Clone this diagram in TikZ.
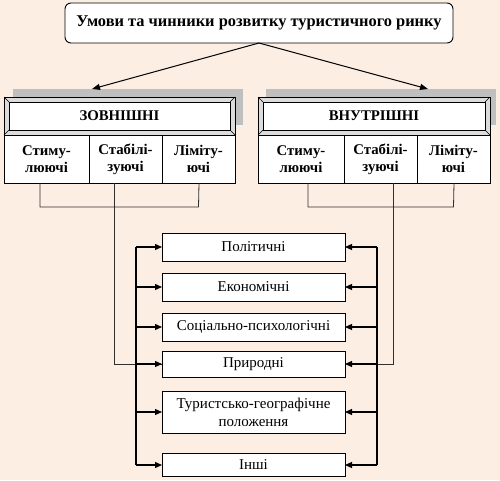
\documentclass[tikz,border=0pt]{standalone}
\usepackage{fontspec}
\setmainfont{Liberation Serif}
\usetikzlibrary{arrows.meta,calc}
\definecolor{bgc}{HTML}{FCEEE3}
\definecolor{shadowc}{HTML}{BFBFBF}
\definecolor{bevelc}{HTML}{DCDCDC}
\definecolor{linec}{HTML}{303030}
\tikzset{
  every node/.style={inner sep=0pt,outer sep=0pt},
  titlebox/.style={draw=black,line width=0.9pt,fill=white,rounded corners=6pt,minimum width=388pt,minimum height=40pt,font=\rmfamily\bfseries\fontsize{16.4}{18}\selectfont},
  shadowbox/.style={fill=shadowc,minimum width=230pt,minimum height=36pt},
  mainbox/.style={draw=black,line width=0.8pt,fill=bevelc,minimum height=38pt},
  maintext/.style={font=\rmfamily\bfseries\fontsize{14.8}{16}\selectfont},
  cellbox/.style={draw=black,line width=0.8pt,fill=white,minimum height=48pt,align=center,font=\rmfamily\bfseries\fontsize{14.8}{17}\selectfont},
  factbox/.style={draw=black,line width=0.8pt,fill=white,minimum width=183pt,align=center,font=\rmfamily\fontsize{15}{18}\selectfont},
  conn/.style={draw=linec,line width=0.8pt},
  arr/.style={draw=black,line width=1.2pt,-{Triangle[length=7pt,width=6pt]}},
  tarr/.style={draw=black,line width=1pt,-{Triangle[length=8pt,width=6pt]}},
}
\begin{document}
\begin{tikzpicture}[x=1pt,y=-1pt]
\fill[bgc] (0,0) rectangle (500,480);
\useasboundingbox (0,0) rectangle (500,480);

% title
\node[titlebox] (title) at (259,23) {Умови та чинники розвитку туристичного ринку};

% shadows
\node[shadowbox] (shL) at (127.5,107) {};
\node[shadowbox] (shR) at (381,107) {};

% main boxes
\node[mainbox,minimum width=231pt] (zov) at (119.5,116) {};
\node[mainbox,minimum width=232pt] (vnu) at (374,116) {};
\foreach \b in {zov,vnu}{
  \draw[black,line width=0.6pt,fill=white] ($(\b.north west)+(5,5)$) coordinate (\b-inw) rectangle ($(\b.south east)+(-5,-5)$) coordinate (\b-ise);
  \draw[black,line width=0.6pt] (\b.north west) -- (\b-inw);
  \draw[black,line width=0.6pt] (\b.south east) -- (\b-ise);
  \draw[black,line width=0.6pt] (\b.north east) -- ($(\b.north east)+(-5,5)$);
  \draw[black,line width=0.6pt] (\b.south west) -- ($(\b.south west)+(5,-5)$);
}
\node[maintext] (zovt) at (zov.center) {ЗОВНІШНІ};
\node[maintext] (vnut) at (vnu.center) {ВНУТРІШНІ};

% cells left
\node[cellbox,minimum width=85pt] (l1) at (46.5,159) {Стиму-\\люючі};
\node[cellbox,minimum width=73pt] (l2) at (125.5,159) {Стабілі-\\зуючі};
\node[cellbox,minimum width=73pt] (l3) at (198.5,159) {Ліміту-\\ючі};
% cells right
\node[cellbox,minimum width=86pt] (r1) at (301,159) {Стиму-\\люючі};
\node[cellbox,minimum width=73pt] (r2) at (380.5,159) {Стабілі-\\зуючі};
\node[cellbox,minimum width=73pt] (r3) at (453.5,159) {Ліміту-\\ючі};

% title arrows
\draw[tarr] (title.south) -- (shL.north -| 92,0);
\draw[tarr] (title.south) -- (shR.north -| 428,0);

% factor boxes
\node[factbox,minimum height=28pt] (p1) at (253.5,247) {Політичні};
\node[factbox,minimum height=28pt] (p2) at (253.5,287) {Економічні};
\node[factbox,minimum height=28pt] (p3) at (253.5,327) {Соціально-психологічні};
\node[factbox,minimum height=26pt] (p4) at (253.5,364) {Природні};
\node[factbox,minimum height=42pt] (p5) at (253.5,412) {Туристсько-географічне\\положення};
\node[factbox,minimum height=23pt] (p6) at (253.5,465) {Інші};

% brackets
\coordinate (lb) at (136,0);
\coordinate (rb) at (377,0);
\coordinate (lyb) at (0,207);
\draw[conn] (l1.south -| 40,0) |- (l3.south |- lyb) coordinate (lbr) -- (l3.south -| 199,0);
\draw[conn] (l2.south -| 114,0) |- (p4.west);
\draw[conn] (r1.south -| 308,0) |- (r3.south |- lyb) -- (r3.south -| 454,0);
\draw[conn] (r2.south -| 393,0) |- (p4.east -| rb);

% buses
\draw[line width=1.2pt] (p1.west -| lb) -- (p6.west -| lb);
\draw[line width=1.2pt] (p1.east -| rb) -- (p6.east -| rb);
\foreach \p in {p1,p2,p3,p4,p5,p6}{
  \draw[arr] (\p.west -| lb) -- (\p.west);
  \draw[arr] (\p.east -| rb) -- (\p.east);
}
\end{tikzpicture}
\end{document}
